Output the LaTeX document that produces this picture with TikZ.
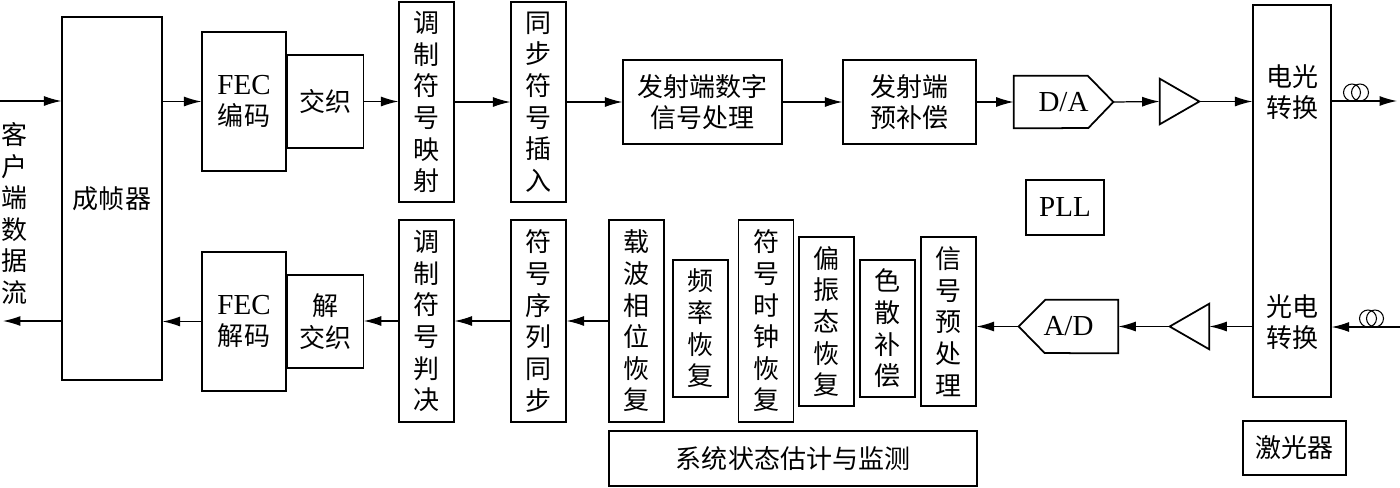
\documentclass[tikz,border=0pt]{standalone}
\usepackage{fontspec}
\setmainfont{Liberation Serif}
\newfontfamily\cjkfont{Noto Sans CJK SC}
\usepackage{tikz}
\usetikzlibrary{arrows.meta,positioning,calc}
\tikzset{
  arr/.style={-{Latex[length=3.5mm,width=2mm]}, line width=0.7pt},
  wh/.style 2 args={minimum width=#1*0.02cm, minimum height=#2*0.02cm},
  blk/.style={draw, line width=0.7pt, inner sep=0pt, align=center, font=\cjkfont\fontsize{14.8pt}{18pt}\selectfont},
  lbl/.style={inner sep=0pt, align=center, font=\cjkfont\fontsize{14.8pt}{18pt}\selectfont},
  shp/.style={line width=1pt, line join=miter},
  coil/.style={line width=0.6pt}
}
\newcommand{\lat}[1]{{\rmfamily\fontsize{16.5pt}{18pt}\selectfont #1}}
\begin{document}
\begin{tikzpicture}[x=0.02cm,y=-0.02cm]
  \useasboundingbox (0,0) rectangle (1400,487);
  % transmitter row
  \node[blk, wh={100}{363}] (frm) at (112,198.5) {成帧器};
  \node[blk, wh={84}{139}] (fece) at (244,101.5) {\lat{FEC}\\编码};
  \node[blk, wh={76}{93}, anchor=west] (intl) at (fece.east) {交织};
  \node[blk, wh={55}{200}] (map) at (426.5,102) {调\\制\\符\\号\\映\\射};
  \node[blk, wh={55}{200}] (sync) at (538.5,102) {同\\步\\符\\号\\插\\入};
  \node[blk, wh={159}{84}] (txdsp) at (702.5,102) {发射端数字\\信号处理};
  \node[blk, wh={133}{84}] (prec) at (909.5,102) {发射端\\预补偿};
  \node[lbl, wh={99}{52}] (da) at (1063.5,102) {\lat{D/A}};
  \draw[shp] (da.north west) -- ++(74,0) -- (da.east) -- ++(-25,26) -- (da.south west) -- cycle;
  \node[wh={39}{45}, inner sep=0pt] (amp1) at (1179.5,101.5) {};
  \draw[shp] (amp1.north west) -- (amp1.east) -- (amp1.south west) -- cycle;
  % optical front end
  \node[blk, wh={78}{392}] (eo) at (1292,201) {};
  \node[lbl] (eol) at (1292,92) {电光\\转换};
  \node[lbl] (oel) at (1292,322) {光电\\转换};
  \node[blk, wh={78}{55}] (pll) at (1065,207.5) {\lat{PLL}};
  \node[blk, wh={103}{54}] (laser) at (1294.5,448) {激光器};
  % receiver row
  \node[blk, wh={84}{139}] (fecd) at (244,321.5) {\lat{FEC}\\解码};
  \node[blk, wh={76}{93}, anchor=west] (dint) at (fecd.east) {解\\交织};
  \node[blk, wh={55}{202}] (dec) at (426.5,321) {调\\制\\符\\号\\判\\决};
  \node[blk, wh={55}{202}] (seq) at (538.5,321) {符\\号\\序\\列\\同\\步};
  \foreach \nm/\x/\y/\h/\txt in {
    cpr/636.5/321/202/{载\\波\\相\\位\\恢\\复},
    frq/700.5/328.5/137/{频\\率\\恢\\复},
    clk/766/321/202/{符\\号\\时\\钟\\恢\\复},
    pol/826.5/321.5/169/{偏\\振\\态\\恢\\复},
    cd/887.5/328.5/137/{色\\散\\补\\偿},
    pre/948.5/321.5/169/{信\\号\\预\\处\\理}}{
    \node[blk, wh={55}{\h}] (\nm) at (\x,\y) {\txt};
  }
  \node[blk, wh={368}{55}] (mon) at (793,458.5) {系统状态估计与监测};
  \node[lbl, wh={99}{53}] (ad) at (1068.5,326.5) {\lat{A/D}};
  \draw[shp] (ad.north east) -- ++(-73,0) -- (ad.west) -- ++(26,26.5) -- (ad.south east) -- cycle;
  \node[wh={39}{45}, inner sep=0pt] (amp2) at (1189.5,326.5) {};
  \draw[shp] (amp2.north east) -- (amp2.west) -- (amp2.south east) -- cycle;
  \node[lbl] (client) at (14.5,213.5) {客\\户\\端\\数\\据\\流};
  % connectors, transmit
  \coordinate (cin) at (0,101);
  \coordinate (fout) at (1397,101);
  \draw[arr] (cin) -- (cin -| frm.west);
  \draw[arr] (frm.east |- fece.west) -- (fece.west);
  \draw[arr] (intl.east) -- (intl.east -| map.west);
  \draw[arr] (map.east) -- (sync.west);
  \draw[arr] (sync.east) -- (txdsp.west);
  \draw[arr] (txdsp.east) -- (prec.west);
  \draw[arr] (prec.east) -- (prec.east -| da.west);
  \draw[arr] (da.east) -- (amp1.west);
  \draw[arr] (amp1.east) -- (amp1.east -| eo.west);
  \draw[arr] (fout -| eo.east) -- (fout);
  \draw[coil] (1352,92.5) circle[radius=0.17cm] (1360,92.5) circle[radius=0.17cm];
  % connectors, receive
  \coordinate (fin) at (1400,327);
  \coordinate (cout) at (3,321);
  \draw[arr] (fin) -- (fin -| eo.east);
  \draw[coil] (1368,318.5) circle[radius=0.17cm] (1375,318.5) circle[radius=0.17cm];
  \draw[arr] (amp2.east -| eo.west) -- (amp2.east);
  \draw[arr] (amp2.west) -- (amp2.west -| ad.east);
  \draw[arr] (ad.west) -- (ad.west -| pre.east);
  \draw[arr] (cpr.west) -- (seq.east);
  \draw[arr] (seq.west) -- (dec.east);
  \draw[arr] (dec.west) -- (dec.west -| dint.east);
  \draw[arr] (fecd.west) -- (fecd.west -| frm.east);
  \draw[arr] (cout -| frm.west) -- (cout);
\end{tikzpicture}
\end{document}
